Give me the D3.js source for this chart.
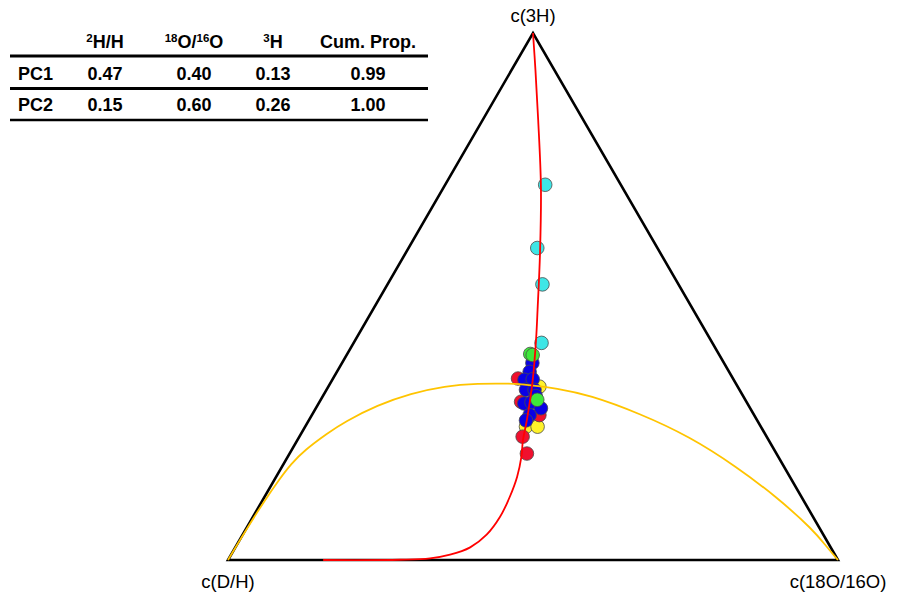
<!DOCTYPE html>
<html>
<head>
<meta charset="utf-8">
<script src="https://cdn.jsdelivr.net/npm/d3@7"></script>
<style>
  html, body { margin: 0; padding: 0; background: #fff; }
  svg { display: block; font-family: "Liberation Sans", Arial, sans-serif; }
</style>
</head>
<body>
<svg id="chart" width="898" height="593"></svg>
<script>
// ---- Data: compositions [D/H, 18O/16O, 3H] ----
const vertexLabels = ["c(D/H)", "c(18O/16O)", "c(3H)"];

const cyanPts = [[0.124,0.164,0.712],[0.197,0.211,0.592],[0.223,0.254,0.523],[0.280,0.308,0.412]];
const yellowPts = [[0.342,0.324,0.334],[0.325,0.346,0.329],[0.385,0.362,0.253],[0.366,0.381,0.253]];
const redPts = [[0.352,0.303,0.344],[0.369,0.330,0.300],[0.352,0.373,0.275],[0.400,0.366,0.234],[0.409,0.389,0.202]];
const bluePts = [[0.314,0.312,0.374],[0.327,0.316,0.357],[0.343,0.315,0.342],[0.329,0.328,0.343],[0.350,0.327,0.323],[0.336,0.341,0.323],[0.340,0.349,0.311],[0.366,0.337,0.297],[0.353,0.348,0.299],[0.343,0.369,0.288],[0.368,0.357,0.275],[0.379,0.356,0.265]];
const greenPts = [[0.309,0.300,0.391],[0.306,0.305,0.389],[0.341,0.355,0.304]];

// PC1 line (red) and PC2 line (yellow), as compositions
const pc1Line = [[0,0,1],[0.031,0.039,0.930],[0.074,0.091,0.835],[0.133,0.159,0.708],[0.197,0.220,0.583],[0.255,0.270,0.475],[0.286,0.296,0.418],[0.330,0.329,0.341],[0.377,0.357,0.266],[0.403,0.370,0.227],[0.421,0.383,0.196],[0.447,0.395,0.158],[0.478,0.402,0.120],[0.513,0.405,0.082],[0.552,0.400,0.048],[0.591,0.385,0.024],[0.631,0.359,0.010],[0.668,0.330,0.003],[0.718,0.282,0.0005],[0.844,0.156,0.0]];
const pc2Line = [[1,0,0],[0.942,0.001,0.057],[0.8825,0.0036,0.1139],[0.8408,0.0074,0.1518],[0.8058,0.012,0.1822],[0.7698,0.0215,0.2087],[0.7159,0.0431,0.241],[0.678,0.060,0.262],[0.608,0.098,0.294],[0.542,0.142,0.316],[0.480,0.190,0.330],[0.423,0.242,0.335],[0.369,0.296,0.335],[0.339,0.329,0.332],[0.299,0.375,0.326],[0.251,0.436,0.313],[0.186,0.536,0.278],[0.126,0.640,0.234],[0.078,0.745,0.177],[0.041,0.839,0.120],[0.012,0.931,0.057],[0.006,0.969,0.025],[0,1,0]];

// Table
const tableCols = [[{t:"2",s:1},{t:"H/H"}],[{t:"18",s:1},{t:"O/"},{t:"16",s:1},{t:"O"}],[{t:"3",s:1},{t:"H"}],[{t:"Cum. Prop."}]];
const rowNames = ["PC1","PC2"];
const rowValues = [["0.47","0.40","0.13","0.99"],["0.15","0.60","0.26","1.00"]];

const groups = [
  {pts: yellowPts, color: "#fff22a"},
  {pts: redPts, color: "#f0102e"},
  {pts: bluePts, color: "#0a00e6"},
  {pts: greenPts, color: "#3ee83a"},
  {pts: cyanPts, color: "#3ee6e6"}
];

// ---- Drawing ----
const svg = d3.select("#chart");
const xS = d3.scaleLinear().domain([0,1]).range([228,838]);
const yS = d3.scaleLinear().domain([0,1]).range([560,33]);
function proj(p){
  const s = p[0]+p[1]+p[2];
  const b = p[1]/s, c = p[2]/s;
  return [xS(b + c/2), yS(c)];
}

// triangle
const verts = [[1,0,0],[0,1,0],[0,0,1]];
svg.append("path")
  .attr("d", d3.line()(verts.map(proj)) + "Z")
  .attr("fill","none").attr("stroke","#000").attr("stroke-width",2.6)
  .attr("stroke-linejoin","miter");

// points
groups.forEach(g => {
  svg.append("g").selectAll("circle").data(g.pts).join("circle")
    .attr("cx", d => proj(d)[0]).attr("cy", d => proj(d)[1])
    .attr("r", 6.8).attr("fill", g.color)
    .attr("stroke","#4a4a4a").attr("stroke-width",0.8);
});

const lineCR = d3.line().x(d => proj(d)[0]).y(d => proj(d)[1]).curve(d3.curveCatmullRom.alpha(0.5));
const lineB = d3.line().x(d => proj(d)[0]).y(d => proj(d)[1]).curve(d3.curveBasis);
svg.append("path").attr("d", lineB(pc2Line)).attr("fill","none").attr("stroke","#ffc400").attr("stroke-width",1.8);
svg.append("path").attr("d", lineCR(pc1Line)).attr("fill","none").attr("stroke","#ff0000").attr("stroke-width",1.8);

// vertex labels
const lblPos = [[0,28],[0,28],[0,-11]];
verts.forEach((v,i) => {
  const [x,y] = proj(v);
  svg.append("text").attr("x", x + lblPos[i][0]).attr("y", y + lblPos[i][1])
    .attr("text-anchor","middle").attr("font-size",18.5).attr("fill","#000")
    .text(vertexLabels[i]);
});

// table
const colX = [105, 194, 273, 368];
const headY = 48, rowY = [80, 111];
const fs = 18;
const tbl = svg.append("g").attr("font-weight","bold").attr("fill","#000");
tableCols.forEach((parts,i) => {
  const t = tbl.append("text").attr("x", colX[i]).attr("y", headY)
    .attr("text-anchor","middle").attr("font-size",fs);
  let acc = 0;
  parts.forEach(p => {
    const ts = t.append("tspan").text(p.t);
    if (p.s) { ts.attr("font-size",11.5).attr("dy", -6 - acc); acc = -6; }
    else { ts.attr("dy", 0 - acc); acc = 0; }
  });
});
rowNames.forEach((r,j) => {
  tbl.append("text").attr("x",18).attr("y",rowY[j]).attr("font-size",fs).text(r);
  rowValues[j].forEach((v,i) => {
    tbl.append("text").attr("x",colX[i]).attr("y",rowY[j]).attr("text-anchor","middle")
      .attr("font-size",fs).text(v);
  });
});
[56, 88.5, 120].forEach((y,k) => {
  svg.append("line").attr("x1",10).attr("x2",428).attr("y1",y).attr("y2",y)
    .attr("stroke","#000").attr("stroke-width", k===2 ? 2.4 : 3);
});
</script>
</body>
</html>
